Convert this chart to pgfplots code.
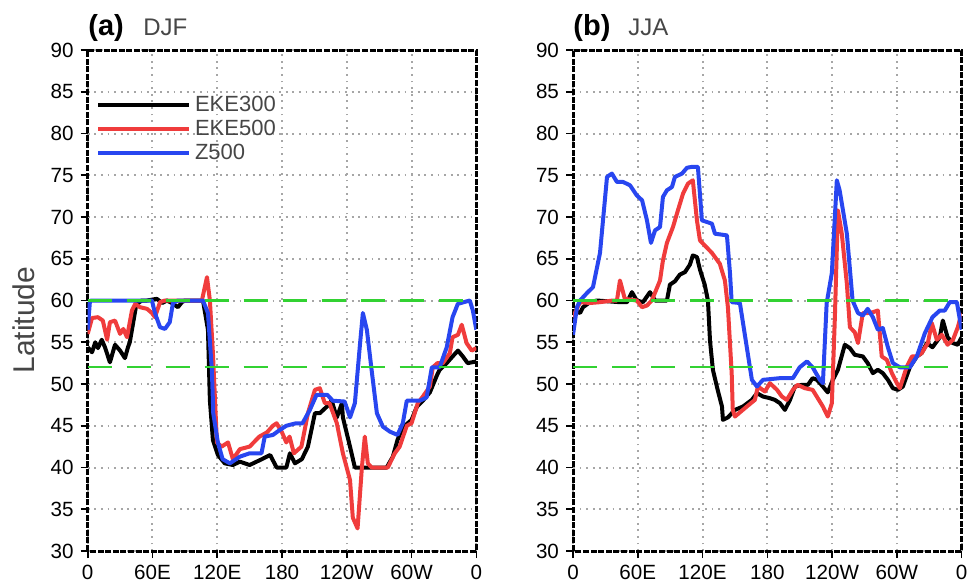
\documentclass[border=0pt]{standalone}
\usepackage{pgfplots}
\pgfplotsset{compat=1.18}
\usepackage{fontspec}
\setmainfont{Liberation Sans}
\definecolor{myred}{RGB}{240,60,60}
\definecolor{myblue}{RGB}{40,70,240}
\definecolor{mygreen}{RGB}{50,210,50}
\definecolor{txtgray}{RGB}{70,70,70}
\pgfplotsset{
 panel/.style={
  scale only axis, width=194.3pt, height=250.5pt,
  xmin=0,xmax=360,ymin=30,ymax=90,
  xtick={0,60,...,360}, xticklabels={0,60E,120E,180,120W,60W,0},
  ytick={30,35,...,90},
  xtick pos=left, ytick pos=left, tick align=outside,
  major tick length=3.5pt,
  tick style={black, line width=0.8pt},
  grid=major,
  major grid style={gray!70, line width=1pt, dash pattern=on 0.9pt off 2.4pt},
  axis line style={black, line width=1.5pt, dash pattern=on 3pt off 0.8pt},
  tick label style={font=\fontsize{10.3}{11}\selectfont},
  /pgf/number format/assume math mode=true,
  anchor=south west,
 },
 eke3/.style={black, line width=2pt, line join=round},
 eke5/.style={myred, line width=2pt, line join=round},
 z5/.style={myblue, line width=2pt, line join=round},
 ref/.style={mygreen, line width=1.1pt, dash pattern=on 12pt off 7.5pt},
}
\begin{document}
\begin{tikzpicture}
\useasboundingbox (0,0) rectangle (486pt,292pt);
% ---------------- panel (a) DJF
\begin{axis}[panel, at={(43.85pt,16.5pt)},
  legend style={draw=none, fill=none, at={(0.005,0.925)}, anchor=north west,
    font=\fontsize{11}{12}\selectfont\color{txtgray}, row sep=-1.2pt, cells={anchor=west}},
  legend image code/.code={\draw[#1] (0pt,0pt) -- (45.5pt,0pt);}]
\addplot[eke3] coordinates {
(0,54.4) (4,53.8) (7,55) (9.5,54.3) (13,55.3) (16,54.4) (20.6,52.6) (25.3,54.7) (30,54) (34.5,53.1) (37.3,54.4) (39,55) (45,59.5) (50,60) (55,60) (64,60.2) (69,59.7) (73.4,60) (78,59.7) (83.6,59.2) (87.3,59.8) (90,60) (106.8,60) (111.4,56.5) (113.2,48) (116,43.3) (120.6,41.5) (127,40.5) (134.5,40.3) (141,40.7) (150,40.3) (161.4,41) (169,41.5) (175,40) (184,40) (187.3,41.7) (192,40.5) (198.4,41) (204,42.5) (210.5,46.5) (215,46.5) (221.6,47.3) (226,48) (230.8,46) (235.5,47.7) (236.4,46) (243,42.5) (247.5,40) (277,40) (282.7,41.3) (287,43.3) (292,44.8) (300,45.7) (305,47.3) (310.5,48) (317,49) (323.4,51) (326,51.7) (332.6,52.5) (338,53.3) (343,54) (347.5,53.3) (352,52.5) (360,52.7)};
\addlegendentry{EKE300}
\addplot[eke5] coordinates {
(0,56) (4,57.9) (9.5,58) (14,57.6) (18,55.3) (20.6,57.4) (25.3,57.6) (30,56) (33,56.6) (36.4,55.6) (41,58.8) (44,59.6) (48.4,59.2) (55,59) (59.5,58.5) (62.3,58) (67,59.8) (71.6,60) (105.8,60) (110.5,62.8) (113.2,60) (116,53.7) (117.8,48.5) (119.7,43) (124,42.5) (130,43) (134.5,41) (141,42.2) (150,42.5) (159,43.7) (166,44.2) (171.6,45) (175,45.3) (180,44.2) (184,43) (187,43.7) (191,41.7) (198,42.5) (204,46.5) (210.5,49.3) (215,49.5) (219.7,47.7) (224,47.7) (230.8,45.3) (236.4,41.7) (243,38.5) (245.6,34) (250,32.7) (254,40) (256.7,43.7) (259.5,40.5) (263,40) (278,40) (284.5,41.7) (289,42.5) (295.6,45) (300,45.3) (305.8,47.7) (310.5,48.5) (317,49.7) (319.7,52) (324,52.5) (329,52.5) (335.5,53.7) (338,55.6) (343,55.9) (346.5,57.1) (351,54.9) (355.8,54) (360,54.3)};
\addlegendentry{EKE500}
\addplot[z5] coordinates {
(0,56.5) (2,59.8) (3,60) (59.5,60) (62.3,58.5) (67,56.8) (71.6,56.6) (76,57.4) (79,59.7) (83.6,60) (106.8,60) (111.4,58.5) (115,51.7) (116,48) (116.3,46.5) (120.6,43) (125,41) (131.7,40.5) (141,41.3) (150,41.7) (161,41.7) (164,43.7) (171.6,43.9) (178,44.5) (184,45) (193,45.3) (199,45.3) (205.8,46.9) (212,48.7) (222,48.7) (227,48) (238,47.9) (243,46) (247.5,47.7) (252,54.4) (254.9,58.5) (258.6,56.5) (263,51.7) (267.9,46.5) (273.4,44.9) (279.9,44.3) (287,43.9) (291.9,45.3) (295.6,48) (307.7,48) (314,48.4) (318.8,52) (326,52) (332.6,54.4) (338,58) (342.9,59.6) (354,60) (356.8,58.8) (360,56.5)};
\addlegendentry{Z500}
\addplot[ref, forget plot] coordinates {(0,60) (360,60)};
\addplot[ref, forget plot] coordinates {(0,52) (352,52)};
\end{axis}
% ---------------- panel (b) JJA
\begin{axis}[panel, at={(286.5pt,16.5pt)}]
\addplot[eke3] coordinates {
(0,57.5) (1.9,58.8) (6.5,58.5) (9.3,59.2) (15.7,59.8) (22,60) (43.5,59.8) (50,59.8) (54.6,61) (59,60) (64.8,59.8) (71.3,61) (76,60) (87,60) (89.8,61.9) (94.4,62.3) (99,63.1) (103.7,63.4) (108.3,64.3) (111,65.4) (114.8,65.2) (117.6,63.7) (122,61.9) (125,60) (126.9,55.2) (129.6,51.7) (134,49.3) (138,47.3) (138.9,45.7) (143.5,46) (150,46.9) (157.4,47.3) (165.7,48.1) (170.4,48.9) (176,48.5) (182.4,48.3) (187,48.1) (191.7,47.7) (196.3,46.9) (201,48.1) (205.6,49.7) (212,49.9) (217.6,49.9) (222,50.7) (226,50.5) (231.5,49.7) (236,49) (240.7,50.5) (245.4,51.7) (251.8,54.7) (256.5,54.3) (261,53.5) (268.5,53.3) (273,52.5) (277.8,51.3) (282.4,51.7) (287,51.3) (291.7,50.5) (296.3,49.5) (301,49.3) (305.6,49.7) (312,52) (318.5,53.3) (323,53.7) (327.8,54.9) (333,54.4) (339.8,55.6) (342.6,57.6) (347,55.6) (351.9,54.9) (356.5,54.7) (360,55.6)};
\addplot[eke5] coordinates {
(0,58) (6.5,59.8) (15.7,59.7) (25,59.8) (37,60) (40.7,60) (43.5,62.4) (48,60.2) (59,60) (64,59.2) (68.5,59.4) (73,60) (80.6,62.4) (83.3,64.8) (87,66.9) (92.6,68.8) (97.2,70.8) (101.9,72.8) (106.5,74) (111,74.4) (114.8,69.6) (117.6,67.2) (122,66.6) (128.7,65.7) (136,64.4) (140.7,62.4) (143.5,59.2) (147,51.3) (148,46.9) (150,46.1) (161,47.3) (168.5,48.1) (171.3,49.7) (177.8,49.1) (182.4,50.1) (189,49.3) (193.5,48.5) (198,48.1) (203.7,49.3) (208,49.9) (214.8,49.5) (222,49.3) (231.5,47.3) (236,46.1) (239.8,47.7) (242.6,58) (245.4,70.8) (249,68) (253.7,62) (256.5,56.8) (261,56.2) (264,54.9) (268.5,58.5) (273,58.5) (277.8,58.6) (282.4,58.8) (286,53.3) (290.7,52.9) (295.4,51.3) (300,50.1) (302.8,49.5) (309,52) (314,53.3) (318.5,53.3) (323,53.7) (328.7,54.9) (332.4,57.3) (337,55.3) (341.7,55.9) (347,54.7) (352,55.3) (356.5,56.8) (360,58.5)};
\addplot[z5] coordinates {
(0,55.9) (3.7,59.2) (6.5,60) (13,60.9) (18.5,61.6) (25,65.7) (31.5,74.8) (36,75.2) (40.7,74.2) (46.3,74.2) (52.8,73.8) (59,72.6) (64,72) (68.5,69.6) (72.2,66.9) (76,68.4) (80.6,68.8) (83.3,72.4) (87,73.2) (91.7,73.6) (94.4,74.8) (101,75.2) (105.6,75.9) (110,76) (115.7,76) (119.4,69.6) (124,69.4) (128.7,69.2) (131.5,68) (142.6,67.8) (145.4,63.3) (147,59.8) (154.6,59.7) (161,54.4) (165.7,50.5) (170.4,49.7) (176,50.5) (191.7,50.7) (203.7,50.7) (210,52) (216.7,52.7) (222,52) (228.7,50.5) (231.5,50.1) (235,59.7) (239.8,63.3) (244.4,74.4) (247,73.2) (253.7,68) (259,60) (264,58.5) (268.5,58.2) (273,59) (277.8,58) (282.4,56.5) (287,56.7) (291.7,54.4) (296.3,52.5) (302.8,52) (312,52) (318.5,53.3) (326,56.1) (333,58) (339.8,58.8) (344.4,58.8) (349,59.8) (355.6,59.8) (360,56.5)};
\addplot[ref] coordinates {(0,60) (360,60)};
\addplot[ref] coordinates {(0,52) (350,52)};
\end{axis}
% titles and label
\node[anchor=base west, inner sep=0pt, font=\fontsize{14.5}{16}\selectfont\bfseries] at (44pt,274pt) {(a)};
\node[anchor=base west, inner sep=0pt, font=\fontsize{12}{14}\selectfont, text=txtgray] at (71.5pt,274pt) {DJF};
\node[anchor=base west, inner sep=0pt, font=\fontsize{14.5}{16}\selectfont\bfseries] at (286.5pt,274pt) {(b)};
\node[anchor=base west, inner sep=0pt, font=\fontsize{12}{14}\selectfont, text=txtgray] at (314pt,274pt) {JJA};
\node[rotate=90, inner sep=0pt, font=\fontsize{15}{17}\selectfont, text=txtgray] at (12pt,132pt) {Latitude};
\end{tikzpicture}
\end{document}
